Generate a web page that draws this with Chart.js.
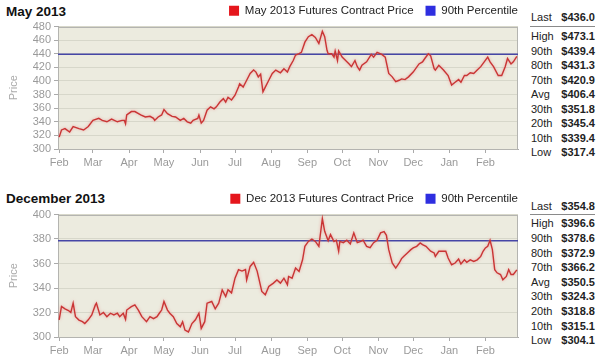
<!DOCTYPE html>
<html><head><meta charset="utf-8">
<script src="https://cdn.jsdelivr.net/npm/chart.js@4.4.1/dist/chart.umd.min.js"></script>
<style>
html,body{margin:0;padding:0;background:#fff;width:600px;height:361px;overflow:hidden;font-family:"Liberation Sans",Arial,sans-serif;}
.box{position:absolute;left:0;width:530px;height:180px;}
.title{position:absolute;left:6px;font-weight:bold;font-size:13.5px;color:#111;line-height:16px;white-space:nowrap;}
.stat{position:absolute;left:531px;width:64px;font-size:11px;line-height:14px;color:#222;white-space:nowrap;}
.stat span{position:absolute;right:0;top:0;font-weight:bold;}
.rule{position:absolute;left:530px;width:65px;height:0;border-top:1px solid #8a8a8a;}
</style></head><body>
<div class="title" style="top:4px">May 2013</div>
<div class="title" style="top:191px">December 2013</div>
<div class="box" style="top:-7px"><canvas id="c1" width="530" height="180"></canvas></div>
<div class="box" style="top:181px"><canvas id="c2" width="530" height="180"></canvas></div>
<div id="stats"></div>
<script>
const monthTicks = [0,29,60,90,121,151,182,213,243,274,304,335,366];
const monthLabels = ['Feb','Mar','Apr','May','Jun','Jul','Aug','Sep','Oct','Nov','Dec','Jan','Feb'];

const mayDays = [0,2,5,9,12,17,21,25,29,34,
 37,41,45,50,54,56,57,58,62,65,
 70,74,78,81,82,85,88,90,93,97,
 100,104,107,110,113,115,119,120,122,124,
 127,130,133,135,138,141,143,145,148,151,
 154,155,158,161,164,167,169,171,173,175,
 177,180,183,186,190,193,196,198,201,203,
 206,208,211,214,217,220,223,226,228,230,
 231,234,236,237,239,240,243,246,249,251,
 254,256,258,260,264,268,270,273,277,280,
 283,286,289,292,294,297,300,304,309,312,
 314,317,319,322,323,326,330,334,337,340,
 343,345,348,350,353,356,359,362,365,368,
 370,373,377,380,383,385,388,390,393];
const mayPrices = [317.4,328,330,325,333,330,328,333,342,345,
 342,340,344,340,342,342,337,350,355,355,
 350,347,348,345,342,347,350,358,352,348,
 347,342,345,340,338,342,345,350,338,342,
 357,362,359,362,369,374,369,376,372,379,
 391,396,391,401,411,416,413,406,410,384,
 391,401,411,416,412,418,413,421,430,438,
 440,442,457,465,468,464,455,473,465,445,
 440,440,435,444,430,444,435,430,425,421,
 430,421,416,423,428,439,435,442,439,435,
 411,406,399,401,403,402,406,413,425,428,
 433,440,437,418,416,423,416,408,394,398,
 402,398,408,408,412,411,416,421,428,435,
 428,421,408,408,421,433,425,428,436];
const may90th = 439.4;

const decDays = [0,2,5,8,10,12,14,17,20,22,
 25,28,31,32,35,38,41,44,47,50,
 52,55,57,58,62,65,68,71,75,78,
 81,84,86,88,90,93,95,98,101,104,
 106,108,111,114,117,120,122,125,127,131,
 134,137,140,143,145,148,151,154,157,160,
 161,164,167,170,171,174,177,180,184,187,
 190,193,196,197,200,203,206,209,211,214,
 217,220,223,226,228,231,233,236,238,240,
 241,244,247,250,253,256,259,261,264,267,
 270,273,276,279,281,283,286,289,292,294,
 296,299,302,304,307,310,312,315,319,322,
 323,326,329,332,334,337,340,343,345,348,
 350,353,356,359,362,364,366,368,370,372,
 374,376,379,381,384,386,388,390,393];
const decPrices = [314,325,323,321.6,320,327.6,316.6,313.8,312.5,311,
 314,318,326,327.6,318,320,316.6,319.4,318,319.4,
 316.6,319.4,314.4,322,324.8,326.2,322,316.6,312.5,316.6,
 315,316.6,319.4,322,329,322,319.4,316.6,311,308.3,
 312.5,305.6,304.1,311,314,319.4,307,312.5,327.6,329,
 323,327.6,338.5,333,338.5,336,348,355,353.8,355,
 346.6,357.6,361,353.8,349.7,337.2,334.4,341.3,344,346.6,
 344,348,342.7,349.4,348,356.3,353.5,363,374,378,
 380,378,374,396.6,386.3,378.5,383.6,378,379,370,
 378,377,379,376,385,377,378,379,374,373,
 377,379,385,386,383,371.3,360.4,356.3,360.4,364,
 366,368.6,371.3,372.7,374,376.8,375.4,374,370,368.6,
 365.8,370,370,370,364.5,359,360.4,363.7,359.6,363,
 361,363,361.7,363,365.8,370,372.7,374,379,371.3,
 355,352.4,351,346.7,349.4,355,351,351,354.8];
const dec90th = 378.6;

const statLabels = ['High','90th','80th','70th','Avg','30th','20th','10th','Low'];
const mayLast = 436.0;
const mayStats = [473.1,439.4,431.3,420.9,406.4,351.8,345.4,339.4,317.4];
const decLast = 354.8;
const decStats = [396.6,378.6,372.9,366.2,350.5,324.3,318.8,315.1,304.1];

const FAM = '"Liberation Sans", Arial, sans-serif';
const legendColors = ['#e5161c', '#2e2ee0'];

const areaPlugin = {
  id: 'area',
  beforeDraw(chart) {
    const {ctx, chartArea: a} = chart;
    ctx.save();
    ctx.fillStyle = '#ecebdf';
    ctx.fillRect(a.left, a.top, a.width, a.height);
    ctx.restore();
  },
  beforeDatasetsDraw(chart) {
    const {ctx, chartArea: a} = chart;
    ctx.save();
    ctx.strokeStyle = '#b4b4b0';
    ctx.lineWidth = 1;
    ctx.strokeRect(Math.round(a.left) + 0.5, Math.round(a.top) + 0.5, Math.round(a.width) - 1, Math.round(a.height) - 1);
    ctx.restore();
  }
};
const glowPlugin = {
  id: 'glow',
  beforeDatasetDraw(chart, args) {
    if (args.index === 0) {
      chart.ctx.save();
      chart.ctx.shadowColor = 'rgba(236,130,130,0.7)';
      chart.ctx.shadowBlur = 3;
    }
  },
  afterDatasetDraw(chart, args) {
    if (args.index === 0) chart.ctx.restore();
  }
};

function makeChart(id, label, days, prices, p90, yMax) {
  const tickFont = {family: FAM, size: 11};
  return new Chart(document.getElementById(id), {
    type: 'line',
    data: {
      datasets: [
        {label: label, data: days.map((d, i) => ({x: d, y: prices[i]})),
         borderColor: '#c93535', borderWidth: 1.4, pointRadius: 0, tension: 0},
        {label: '90th Percentile', data: [{x: -1, y: p90}, {x: 394, y: p90}],
         borderColor: '#4646a6', borderWidth: 1.5, pointRadius: 0}
      ]
    },
    options: {
      responsive: false, animation: false,
      layout: {padding: 0},
      plugins: {
        legend: {
          position: 'top', align: 'end', maxHeight: 33.5,
          labels: {
            boxWidth: 10, boxHeight: 10, padding: 12, color: '#222',
            font: {family: FAM, size: 11.5},
            generateLabels: (chart) => chart.data.datasets.map((ds, i) => ({
              text: ds.label, fillStyle: legendColors[i], strokeStyle: legendColors[i],
              lineWidth: 0, hidden: false, datasetIndex: i, fontColor: '#222'
            }))
          }
        },
        tooltip: {enabled: false}
      },
      scales: {
        x: {
          type: 'linear', min: -1, max: 394,
          afterBuildTicks(s) { s.ticks = monthTicks.map(v => ({value: v})); },
          afterFit(s) { s.height = 24; },
          ticks: {callback: (v, i) => monthLabels[i], autoSkip: false, maxRotation: 0,
                  padding: 3, color: '#9a9a9a', font: tickFont},
          grid: {drawOnChartArea: false, tickLength: 4, tickColor: '#aaa'},
          border: {color: '#aaa'}
        },
        y: {
          type: 'linear', min: 300, max: yMax,
          afterFit(s) { s.width = 58; },
          ticks: {stepSize: 20, autoSkip: false, padding: 3, color: '#9a9a9a', font: tickFont},
          grid: {color: '#d7d7ca', tickLength: 4, tickColor: '#aaa'},
          border: {color: '#aaa'},
          title: {display: true, text: 'Price', color: '#aaa', font: tickFont, padding: {top: 7, bottom: 0}}
        },
        yr: {
          type: 'linear', position: 'right', display: true,
          afterFit(s) { s.width = 12; },
          grid: {display: false}, border: {display: false}, ticks: {display: false}
        }
      }
    },
    plugins: [areaPlugin, glowPlugin]
  });
}

makeChart('c1', 'May 2013 Futures Contract Price', mayDays, mayPrices, may90th, 480);
makeChart('c2', 'Dec 2013 Futures Contract Price', decDays, decPrices, dec90th, 400);

function makeStats(lastY, ruleY, firstY, step, last, stats) {
  const host = document.getElementById('stats');
  const add = (cy, lab, val) => {
    const d = document.createElement('div');
    d.className = 'stat';
    d.style.top = (cy - 7) + 'px';
    d.textContent = lab;
    const s = document.createElement('span');
    s.textContent = '$' + val.toFixed(1);
    d.appendChild(s);
    host.appendChild(d);
  };
  add(lastY, 'Last', last);
  const r = document.createElement('div');
  r.className = 'rule';
  r.style.top = ruleY + 'px';
  host.appendChild(r);
  statLabels.forEach((lab, i) => add(firstY + i * step, lab, stats[i]));
}
makeStats(17, 26, 36, 14.5, mayLast, mayStats);
makeStats(206, 214, 223.3, 14.6, decLast, decStats);
</script>
</body></html>
